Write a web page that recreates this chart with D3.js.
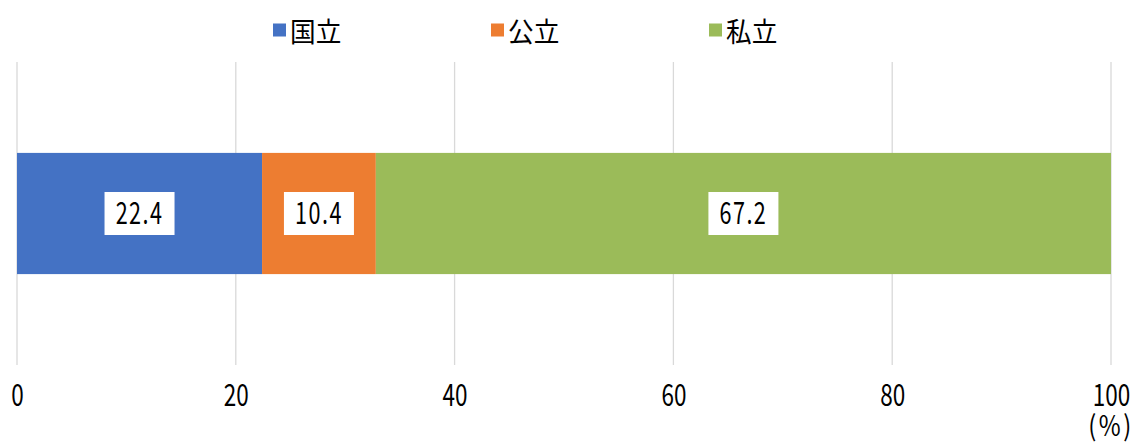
<!DOCTYPE html>
<html><head><meta charset="utf-8">
<script src="https://cdn.jsdelivr.net/npm/d3@7"></script>
<style>body{margin:0;background:#fff}svg{display:block}</style>
</head><body>
<svg id="c" width="1137" height="444"></svg>
<script>
const series = ["国立", "公立", "私立"];
const values = [22.4, 10.4, 67.2];
const colors = ["#4472C4", "#ED7D31", "#9BBB59"];
const tickValues = [0, 20, 40, 60, 80, 100];
const unitLabel = "(%)";
const category = "all";

const FONT = "'Noto Sans CJK JP', 'Noto Sans', sans-serif";
const SX = 0.75;
const svg = d3.select("#c");
const x = d3.scaleLinear().domain([0, 100]).range([17, 1111]);
const y = d3.scaleBand().domain([category]).range([62, 365]).paddingInner(0.6).paddingOuter(0.3);

// gridlines
svg.append("g").selectAll("line").data(tickValues).join("line")
  .attr("x1", d => x(d)).attr("x2", d => x(d))
  .attr("y1", 62).attr("y2", 365)
  .attr("stroke", "#d9d9d9").attr("stroke-width", 1.3);

// stacked bars
const stack = [];
let acc = 0;
values.forEach((v, i) => { stack.push({name: series[i], v, x0: acc, x1: acc + v, color: colors[i]}); acc += v; });

svg.append("g").selectAll("rect").data(stack).join("rect")
  .attr("x", d => x(d.x0)).attr("width", d => x(d.x1) - x(d.x0))
  .attr("y", y(category)).attr("height", y.bandwidth())
  .attr("fill", d => d.color);

// data labels
const lab = svg.append("g").selectAll("g").data(stack).join("g")
  .attr("transform", d => `translate(${(x(d.x0) + x(d.x1)) / 2},${y(category) + y.bandwidth() / 2})`);
lab.append("rect").attr("x", -35).attr("y", -21.5).attr("width", 70).attr("height", 43).attr("fill", "#fff");
lab.append("text").attr("transform", `scale(0.72,1)`)
  .attr("text-anchor", "middle").attr("dy", "0.36em")
  .attr("font-family", FONT).attr("font-size", 30).attr("fill", "#000")
  .attr("letter-spacing", 2)
  .text(d => d.v.toFixed(1));

// axis
const axis = svg.append("g").attr("transform", "translate(0,365)")
  .call(d3.axisBottom(x).tickValues(tickValues).tickSize(0).tickPadding(0));
axis.select(".domain").remove();
axis.selectAll("text")
  .attr("y", 41).attr("dy", 0)
  .attr("font-family", FONT).attr("font-size", 30).attr("fill", "#000")
  .attr("transform", `scale(${SX},1)`);

svg.append("text").attr("transform", `translate(${x(100)},436) scale(0.85,1)`)
  .attr("text-anchor", "middle").attr("font-family", FONT).attr("font-size", 28).attr("fill", "#000")
  .attr("letter-spacing", 3)
  .text(unitLabel);

// legend
const legX = d3.scalePoint().domain(series).range([273, 709]);
const leg = svg.append("g").selectAll("g").data(series).join("g")
  .attr("transform", d => `translate(${legX(d)},0)`);
leg.append("rect").attr("x", 0).attr("y", 23.5).attr("width", 13).attr("height", 13)
  .attr("fill", (d, i) => colors[i]);
leg.append("text").attr("transform", "translate(17,42) scale(0.95,1)")
  .attr("font-family", FONT).attr("font-size", 27).attr("fill", "#000")
  .text(d => d);
</script>
</body></html>
